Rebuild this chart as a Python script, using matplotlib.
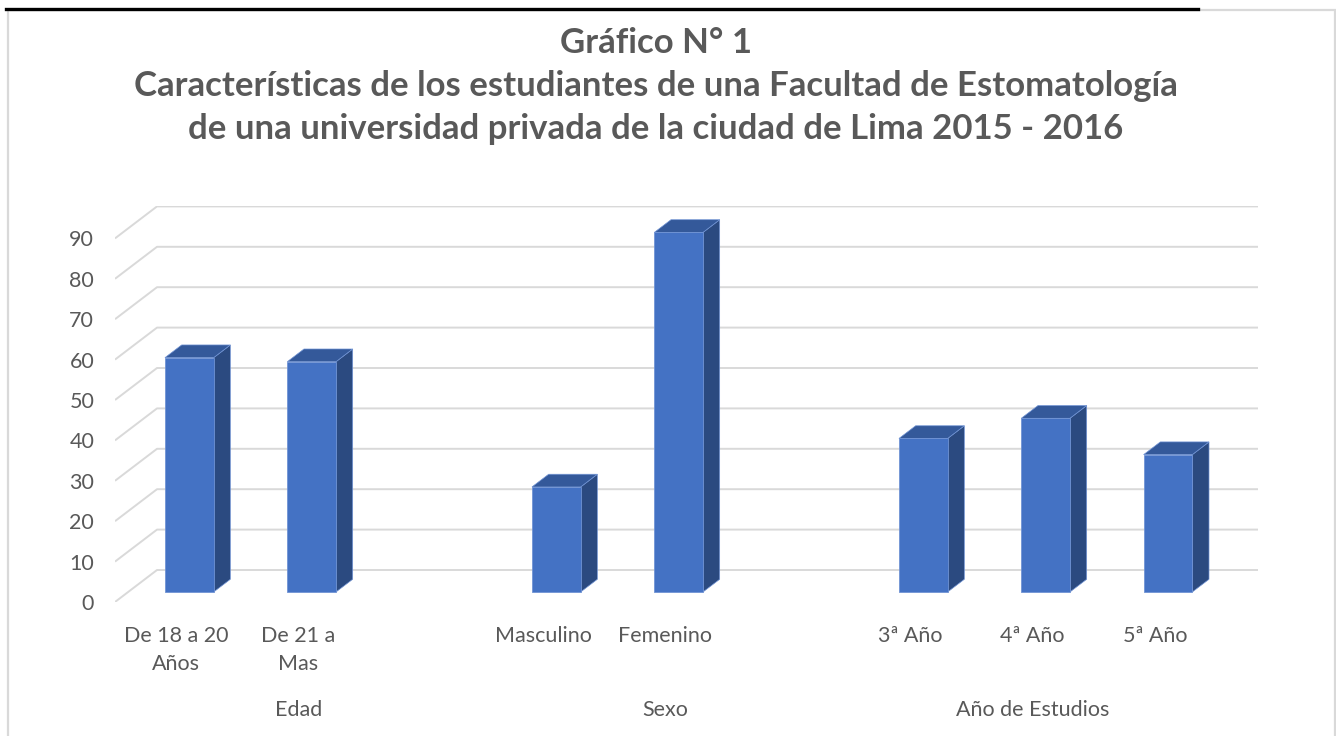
import matplotlib.pyplot as plt
from matplotlib.patches import Rectangle
from matplotlib.lines import Line2D

# data (counts, total 115 per group)
categories = ['De 18 a 20\nAños', 'De 21 a\nMas', '', 'Masculino', 'Femenino', '',
              '3ª Año', '4ª Año', '5ª Año']
values = [58, 57, None, 26, 89, None, 38, 43, 34]
groups = ['Edad', 'Sexo', 'Año de Estudios']
group_slots = [(0, 2), (3, 5), (6, 8)]
yticks = list(range(0, 100, 10))

title = ('Gráfico N° 1\n'
         'Características de los estudiantes de una Facultad de Estomatología\n'
         'de una universidad privada de la ciudad de Lima 2015 - 2016')

plt.rcParams['font.family'] = ['Lato', 'DejaVu Sans']
text_color = '#595959'
grid_color = '#d9d9d9'
front_c, side_c, top_c, edge_c = '#4472C4', '#2B4A80', '#34599A', '#7093d4'

W, H = 1336, 736
fig = plt.figure(figsize=(W / 100, H / 100), dpi=100)

# oblique 3D projection: depth 0 (front) .. 1 (back wall)
n = len(categories)
DX = 42 / 122.3          # depth shift in category units
DY = 32 / 4.04           # depth shift in value units
ymax = 90

ax = fig.add_axes([115 / W, (H - 602) / H, (1258 - 115) / W, (602 - 206.4) / H])
ax.set_xlim(0, n + DX)
ax.set_ylim(0, ymax + DY)
for s in ax.spines.values():
    s.set_visible(False)

# gridlines: slanted on the side wall, flat on the back wall
for v in yticks:
    ax.plot([0, DX, n + DX], [v, v + DY, v + DY], color=grid_color, lw=1.4,
            solid_capstyle='butt', zorder=1)

# bars as 3 faces
d0, d1 = 0.3125, 0.71
bw = 0.398
for i, v in enumerate(values):
    if v is None:
        continue
    xl = i + 0.5 - bw / 2 + d0 * DX
    xr = xl + bw
    ddx = (d1 - d0) * DX
    yb = d0 * DY
    yt = v + d0 * DY
    ddy = (d1 - d0) * DY
    ax.fill([xr, xr + ddx, xr + ddx, xr], [yb, yb + ddy, yt + ddy, yt],
            color=side_c, ec=edge_c, lw=0.5, zorder=3)
    ax.fill([xl, xr, xr + ddx, xl + ddx], [yt, yt, yt + ddy, yt + ddy],
            color=top_c, ec=edge_c, lw=0.5, zorder=3)
    ax.fill([xl, xr, xr, xl], [yb, yb, yt, yt],
            color=front_c, ec=edge_c, lw=0.6, zorder=4)

ax.set_yticks(yticks)
ax.set_yticklabels([str(t) for t in yticks], fontsize=15.5, color=text_color)
ax.set_xticks([i + 0.5 for i in range(n)])
ax.set_xticklabels(categories, fontsize=15.5, color=text_color, va='top')
ax.tick_params(axis='both', length=0)
ax.tick_params(axis='y', pad=15)
ax.tick_params(axis='x', pad=17)
for t in ax.get_xticklabels():
    t.set_linespacing(1.5)

for g, (a, b) in zip(groups, group_slots):
    ax.text((a + b + 1) / 2, -0.273, g, transform=ax.get_xaxis_transform(),
            ha='center', va='center', fontsize=15.5, color=text_color)

fig.text(656 / W, 1 - 86 / H, title, ha='center', va='center', fontsize=25,
         fontweight='bold', color=text_color, linespacing=1.42)

# chart frame and the black rule above it
fig.add_artist(Rectangle((7.5 / W, -0.01), (W - 9) / W, 1 - 9.5 / H + 0.01,
                         transform=fig.transFigure, fill=False, ec=grid_color, lw=1.6))
fig.add_artist(Line2D([6 / W, 1198 / W], [1 - 9 / H, 1 - 9 / H],
                      transform=fig.transFigure, color='black', lw=2.4))

fig.savefig('out.png', dpi=100)
